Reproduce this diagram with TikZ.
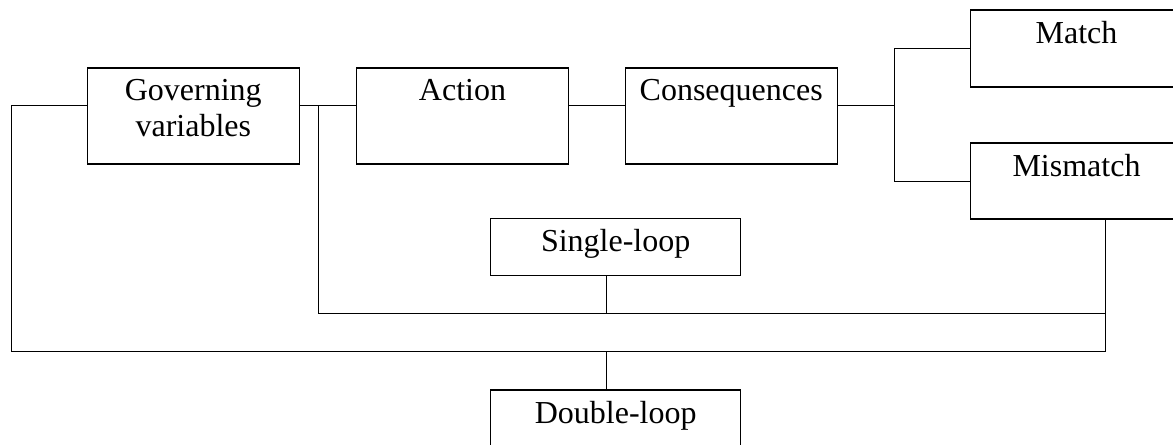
\documentclass[tikz,border=0pt]{standalone}
\usepackage{fontspec}
\setmainfont{Liberation Serif}
\tikzset{every picture/.style={line width=0.75pt}}
\tikzset{
  box/.style={draw, rectangle, line width=1pt, minimum width=159pt, minimum height=72pt, inner sep=0pt},
  loopbox/.style={box, minimum width=187.5pt, minimum height=42.75pt},
  lbl/.style={anchor=north, inner sep=8.3pt, align=center, font=\fontsize{24}{27}\selectfont}
}

\begin{document}
\begin{tikzpicture}[x=0.75pt,y=0.75pt,yscale=-1,xscale=1]
	%set diagram frame
	\useasboundingbox (0,0) rectangle (1173,444);
	
	%Shape: Rectangle [boxes]
	\node[box] (gov) at (193.3,116) {};
	\node[box] (act) at (462.5,116) {};
	\node[box] (cons) at (731.2,116) {};
	\node[box, minimum height=57.75pt] (match) at (1076.5,48.5) {};
	\node[box, minimum height=57pt] (mism) at (1076.5,181) {};
	\node[loopbox] (single) at (615.7,247.3) {};
	\node[loopbox] (double) at (615.7,418.5) {};
	
	%Corners of the loops
	\coordinate (gtl) at (11,105.3);
	\coordinate (gbl) at (11,351.7);
	\coordinate (gbr) at (1105.7,351.7);
	\coordinate (stl) at (318,105.3);
	\coordinate (sbl) at (318,313.7);
	\coordinate (sbr) at (1105.7,313.7);
	\coordinate (fk) at (894.3,105.3);
	\coordinate (stap) at (606,313.7);
	\coordinate (dtap) at (606,351.7);
	
	%Connectors
	\draw (gov.west |- gtl) -- (gtl) -- (gbl) -- (gbr) -- (gbr |- mism.south);
	\draw (gov.east |- stl) -- (act.west |- stl);
	\draw (stl) -- (sbl) -- (sbr);
	\draw (act.east |- stl) -- (cons.west |- stl);
	\draw (cons.east |- fk) -- (fk);
	\draw (match.west) -| (fk) |- (mism.west);
	\draw (single.south -| stap) -- (stap);
	\draw (dtap) -- (double.north -| dtap);
	
	%Texts
	\node[lbl] (govtxt) at (gov.north) {Governing\\variables};
	\node[lbl] (acttxt) at (act.north) {Action};
	\node[lbl] (constxt) at (cons.north) {Consequences};
	\node[lbl] (matchtxt) at (match.north) {Match};
	\node[lbl] (mismtxt) at (mism.north) {Mismatch};
	\node[lbl] (singletxt) at (single.north) {Single-loop};
	\node[lbl] (doubletxt) at (double.north) {Double-loop};
\end{tikzpicture}
\end{document}
